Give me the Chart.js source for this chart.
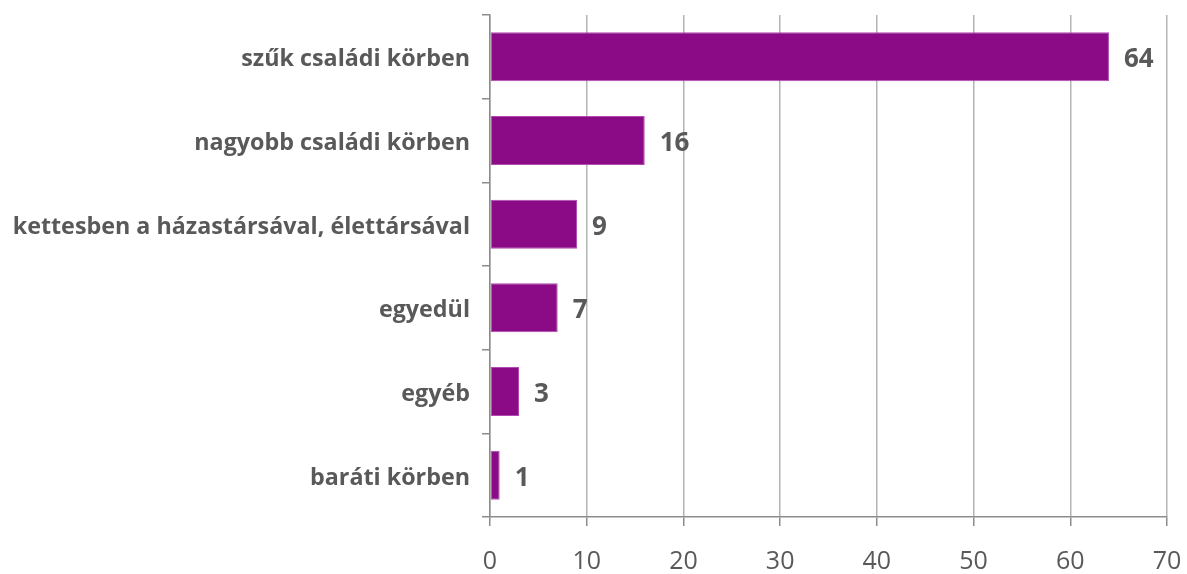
<!DOCTYPE html>
<html><head><meta charset="utf-8">
<script src="https://cdn.jsdelivr.net/npm/chart.js@4"></script>
<style>html,body{margin:0;padding:0;background:#fff}#wrap{width:1187px;height:574px}</style>
</head><body><div id="wrap"><canvas id="c" width="1187" height="574"></canvas></div>
<script>
const categories = ["szűk családi körben","nagyobb családi körben","kettesben a házastársával, élettársával","egyedül","egyéb","baráti körben"];
const values = [64,16,9,7,3,1];
const xTicks = [0,10,20,30,40,50,60,70];

const FONT = "'Open Sans', 'DejaVu Sans', sans-serif";
const TXT = '#595959';

const labelPlugin = {
  id: 'vals',
  afterDatasetsDraw(chart){
    const ctx = chart.ctx;
    const meta = chart.getDatasetMeta(0);
    ctx.save();
    ctx.font = "bold 26px " + FONT;
    ctx.fillStyle = TXT;
    ctx.textAlign = 'left';
    ctx.textBaseline = 'middle';
    meta.data.forEach((bar,i)=>{
      ctx.fillText(String(values[i]), bar.x + 15, bar.y + 3);
    });
    ctx.restore();
  }
};

new Chart(document.getElementById('c'), {
  type: 'bar',
  data: {
    labels: categories,
    datasets: [{
      data: values,
      backgroundColor: '#8B0B87',
      borderColor: '#B24BB0',
      borderWidth: 1,
      borderSkipped: false,
      barPercentage: 0.585,
      categoryPercentage: 1
    }]
  },
  options: {
    indexAxis: 'y',
    responsive: false,
    animation: false,
    devicePixelRatio: 1,
    layout: { padding: { top: 15, right: 20, left: 0, bottom: 0 } },
    plugins: { legend: { display: false }, tooltip: { enabled: false } },
    scales: {
      x: {
        min: 0, max: 70,
        afterBuildTicks(axis){ axis.ticks = xTicks.map(v=>({value:v})); },
        afterFit(axis){ axis.height = 57; axis.paddingLeft = 0; axis.paddingRight = 0; },
        grid: { color: '#b3b3b3', lineWidth: 1.5, drawTicks: true, tickLength: 9, tickColor: '#8c8c8c' },
        border: { color: '#8c8c8c', width: 1.5 },
        ticks: { color: TXT, font: { family: FONT, size: 25 }, padding: 21, maxRotation: 0 }
      },
      y: {
        afterFit(axis){ axis.width = 490; axis.paddingTop = 0; axis.paddingBottom = 0; },
        grid: { drawOnChartArea: false, drawTicks: true, tickLength: 8, color: '#8c8c8c', lineWidth: 1.5 },
        border: { color: '#8c8c8c', width: 1.5 },
        ticks: { color: TXT, font: { family: FONT, size: 23.3, weight: 'bold' }, padding: 12, labelOffset: 3 }
      }
    }
  },
  plugins: [labelPlugin]
});
</script>
</body></html>
